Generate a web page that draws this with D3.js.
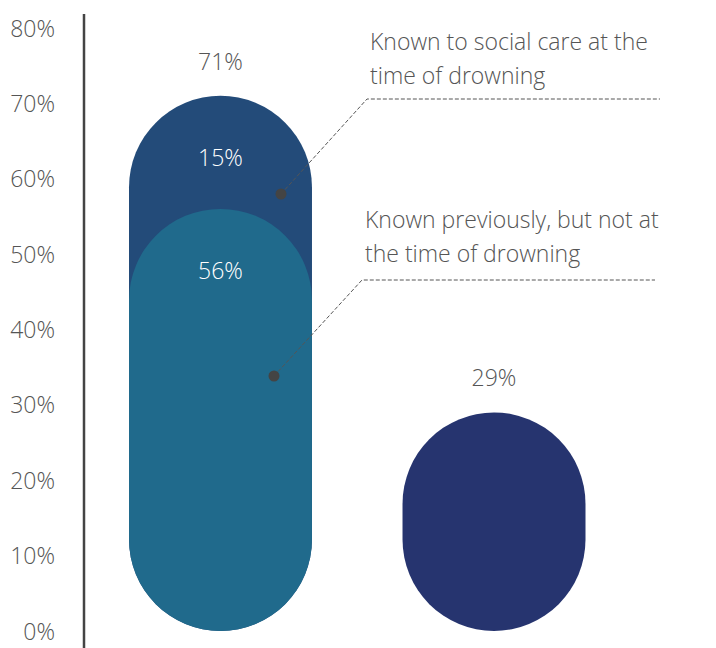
<!DOCTYPE html>
<html>
<head>
<meta charset="utf-8">
<script src="https://cdn.jsdelivr.net/npm/d3@7/dist/d3.min.js"></script>
<style>
  html, body { margin: 0; padding: 0; background: #fff; }
  svg { display: block; font-family: "Open Sans", "Helvetica Neue", Arial, sans-serif; font-weight: 300; }
</style>
</head>
<body>
<svg id="chart" width="716" height="648"></svg>
<script>
// Children who drowned, by contact with social care
const categories = ["Known to social care", "Not known to social care"];
const knownNow = [15, 0];        // known at the time of drowning
const knownBefore = [56, 0];     // known previously, not at the time
const notKnown = [0, 29];
const totals = [71, 29];
const yTicks = [0, 10, 20, 30, 40, 50, 60, 70, 80];
const notes = [
  ["Known to social care at the", "time of drowning"],
  ["Known previously, but not at", "the time of drowning"]
];

const colors = { now: "#234b79", before: "#206a8c", none: "#26346f", text: "#555", axis: "#444" };
const FONT = 23;

const svg = d3.select("#chart");
const y = d3.scaleLinear().domain([0, 80]).range([631, 28]);
const x = d3.scaleBand().domain(categories).range([129, 585.5]).paddingInner(0.331).paddingOuter(0);
const bw = x.bandwidth();

// y axis labels
const yAxis = d3.axisLeft(y).tickValues(yTicks).tickSize(0).tickPadding(29).tickFormat(d => d + "%");
const ax = svg.append("g").attr("transform", "translate(84,0)").call(yAxis);
ax.select(".domain").remove();
ax.selectAll("text").attr("font-size", FONT).attr("fill", colors.text)
  .attr("font-family", "'Open Sans', Arial, sans-serif").attr("font-weight", 300).attr("dy", "0.35em");
svg.append("line").attr("x1", 84).attr("x2", 84).attr("y1", 14).attr("y2", 648)
  .attr("stroke", colors.axis).attr("stroke-width", 2.5);

// pill-shaped bars, drawn from the bottom
function pill(cat, v, fill) {
  svg.append("rect")
    .attr("x", x(cat)).attr("width", bw)
    .attr("y", y(v)).attr("height", y(0) - y(v))
    .attr("rx", bw / 2).attr("ry", bw / 2)
    .attr("fill", fill);
}
categories.forEach((c, i) => {
  if (knownNow[i] + knownBefore[i] > 0) {
    pill(c, knownBefore[i] + knownNow[i], colors.now);
    pill(c, knownBefore[i], colors.before);
  }
  if (notKnown[i] > 0) pill(c, notKnown[i], colors.none);
});

// totals above bars
categories.forEach((c, i) => {
  svg.append("text").attr("x", x(c) + bw / 2).attr("y", y(totals[i]) - 34)
    .attr("text-anchor", "middle").attr("dy", "0.35em")
    .attr("font-size", FONT).attr("fill", colors.text).text(totals[i] + "%");
});

// segment labels inside first bar
const c0 = categories[0];
svg.append("text").attr("x", x(c0) + bw / 2).attr("y", y(knownBefore[0] + knownNow[0]) + 62)
  .attr("text-anchor", "middle").attr("dy", "0.35em").attr("font-size", FONT).attr("fill", "#fff")
  .text(knownNow[0] + "%");
svg.append("text").attr("x", x(c0) + bw / 2).attr("y", y(knownBefore[0]) + 62)
  .attr("text-anchor", "middle").attr("dy", "0.35em").attr("font-size", FONT).attr("fill", "#fff")
  .text(knownBefore[0] + "%");

// callouts with dashed leader lines
const noteLayout = [
  { textX: 370, textY: 42, lineY: 99, lineX0: 367, lineX1: 660, dotX: 281, dotY: 194 },
  { textX: 365, textY: 220, lineY: 280, lineX0: 362, lineX1: 655, dotX: 274, dotY: 376 }
];
notes.forEach((lines, i) => {
  const L = noteLayout[i];
  svg.append("path")
    .attr("d", `M${L.dotX},${L.dotY}L${L.lineX0},${L.lineY}L${L.lineX1},${L.lineY}`)
    .attr("fill", "none").attr("stroke", "#555").attr("stroke-width", 1)
    .attr("stroke-dasharray", "4,2");
  svg.append("circle").attr("cx", L.dotX).attr("cy", L.dotY).attr("r", 5.5).attr("fill", "#444");
  lines.forEach((t, j) => {
    svg.append("text").attr("x", L.textX).attr("y", L.textY + j * 34).attr("dy", "0.35em")
      .attr("font-size", FONT).attr("fill", colors.text).text(t);
  });
});
</script>
</body>
</html>
